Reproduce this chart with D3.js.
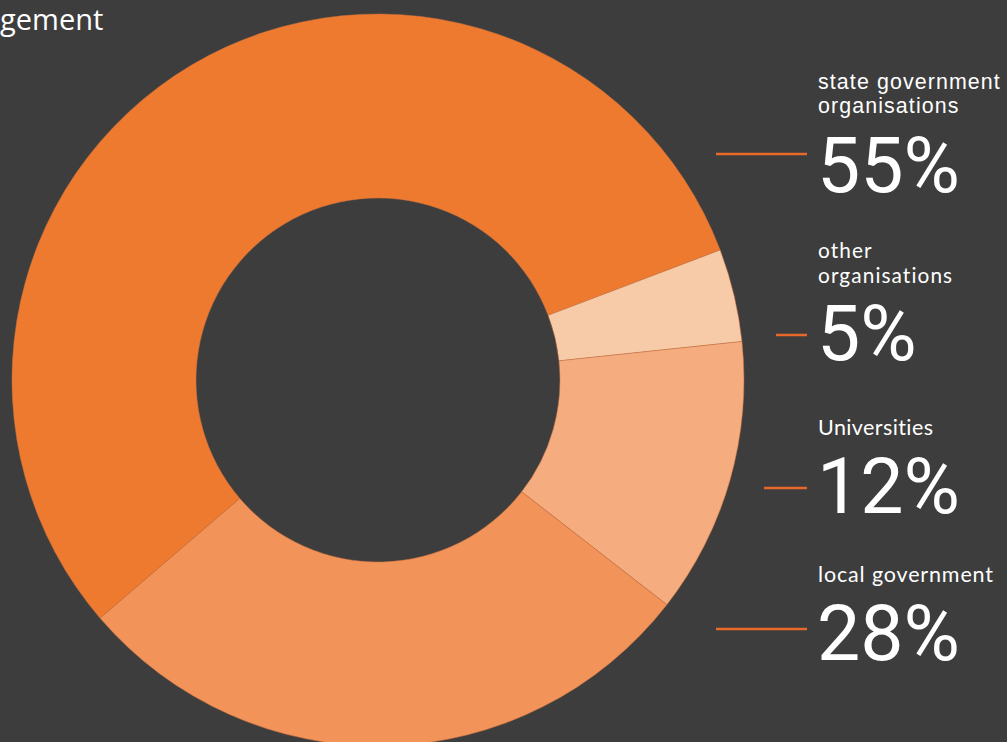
<!DOCTYPE html>
<html>
<head>
<meta charset="utf-8">
<script src="https://cdn.jsdelivr.net/npm/d3@7"></script>
<style>
  html, body { margin: 0; padding: 0; background: #3d3d3d; overflow: hidden; }
</style>
</head>
<body>
<div id="chart"></div>
<script>
// data
const categories = ["state government organisations", "other organisations", "Universities", "local government"];
const shares = [55.5, 4.1, 12.2, 28.2];          // slice sizes as drawn
const shareLabels = ["55%", "5%", "12%", "28%"]; // printed numbers
const sliceColors = ["#ee7a30", "#f8cba8", "#f5ac7e", "#f2935a"];
const titleText = "gement";

const w = 1007;
const h = 742;

const svg = d3.select("#chart").
append("svg").
attr("width", w).
attr("height", h);

svg.append("rect").attr("width", w).attr("height", h).attr("fill", "#3d3d3d");

// donut
const cx = 378, cy = 380;
const pie = d3.pie().
sort(null).
startAngle(229.4 * Math.PI / 180).
endAngle((229.4 + 360) * Math.PI / 180).
value(d => d);

const arc = d3.arc().innerRadius(182).outerRadius(366);

svg.append("g").
attr("transform", `translate(${cx},${cy})`).
selectAll("path").
data(pie(shares)).
enter().
append("path").
attr("d", arc).
attr("fill", (d, i) => sliceColors[i]).
attr("stroke", "#c8703f").
attr("stroke-width", 0.5);

// title fragment top-left
svg.append("text").
attr("x", 0).
attr("y", 30).
attr("font-family", "'Open Sans', sans-serif").
attr("font-size", 29).
attr("fill", "#ffffff").
text(titleText);

// legend blocks on the right
const blocks = [
  { lines: ["state government", "organisations"], labelY: [89, 113], font: "'Liberation Sans', Arial, sans-serif", size: 21.4, ls: 1.1, lineX: 716, lineY: 154, numY: 192 },
  { lines: ["other", "organisations"], labelY: [258, 283], font: "Lato, sans-serif", size: 20.8, ls: 1.1, lineX: 776, lineY: 335, numY: 360 },
  { lines: ["Universities"], labelY: [435], font: "Lato, sans-serif", size: 21.5, ls: 0.4, lineX: 764, lineY: 488, numY: 513 },
  { lines: ["local government"], labelY: [582], font: "Lato, sans-serif", size: 21.5, ls: 0.85, lineX: 716, lineY: 629, numY: 660 }
];

const leg = svg.append("g").attr("id", "legend");

blocks.forEach((b, i) => {
  leg.append("line").
  attr("x1", b.lineX).
  attr("x2", 807).
  attr("y1", b.lineY).
  attr("y2", b.lineY).
  attr("stroke", "#e8692a").
  attr("stroke-width", 2.5);

  const t = leg.append("text").attr("fill", "#ffffff");

  b.lines.forEach((s, j) => {
    t.append("tspan").
    attr("x", 818).
    attr("y", b.labelY[j]).
    attr("font-family", b.font).
    attr("font-size", b.size).
    attr("letter-spacing", b.ls).
    text(s);
  });

  t.append("tspan").
  attr("x", 817).
  attr("y", b.numY).
  attr("font-family", "Roboto, sans-serif").
  attr("font-size", 77).
  attr("letter-spacing", 0).
  text(shareLabels[i]);
});
</script>
</body>
</html>
